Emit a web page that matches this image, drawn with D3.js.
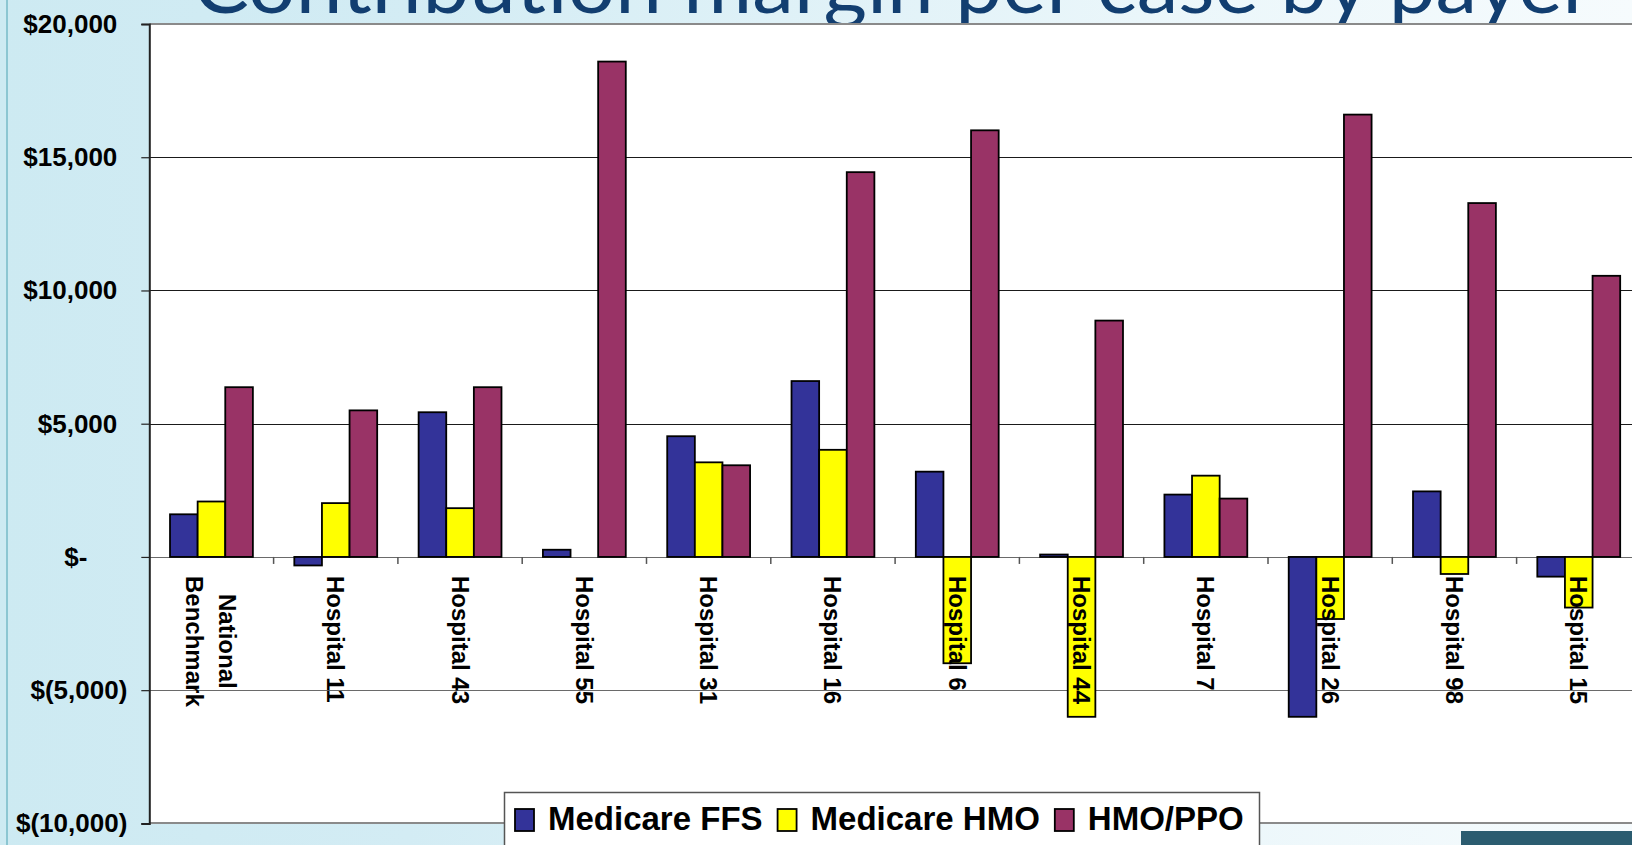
<!DOCTYPE html>
<html>
<head>
<meta charset="utf-8">
<script src="https://cdn.jsdelivr.net/npm/d3@7"></script>
<style>
  html, body { margin: 0; padding: 0; background: #ffffff; }
  svg { display: block; }
</style>
</head>
<body>
<script>
// ---------- data ----------
const categories = ["National\nBenchmark", "Hospital 11", "Hospital 43", "Hospital 55", "Hospital 31",
  "Hospital 16", "Hospital 6", "Hospital 44", "Hospital 7", "Hospital 26", "Hospital 98", "Hospital 15"];
const seriesNames = ["Medicare FFS", "Medicare HMO", "HMO/PPO"];
const medicareFFS = [1600, -320, 5430, 270, 4530, 6600, 3200, 90, 2340, -6000, 2460, -740];
const medicareHMO = [2080, 2020, 1830, 0, 3550, 4020, -3990, -6000, 3050, -2330, -640, -1900];
const hmoPPO      = [6370, 5500, 6370, 18590, 3440, 14440, 16010, 8870, 2190, 16600, 13280, 10550];
const yTickValues = [20000, 15000, 10000, 5000, 0, -5000, -10000];
const titleText = "Contribution margin per case by payer";
const seriesColors = ["#333399", "#FFFF00", "#993366"];

const seriesValues = [medicareFFS, medicareHMO, hmoPPO];

// ---------- layout ----------
const W = 1632, H = 845;
const plotLeft = 149.3, plotTop = 24, plotBottom = 823.4, step = 124.3;
const plotRight = plotLeft + categories.length * step;

const svg = d3.select("body").append("svg").attr("width", W).attr("height", H);
const defs = svg.append("defs");
const bg = defs.append("linearGradient").attr("id", "bg").attr("x1", 0).attr("x2", 1).attr("y1", 0).attr("y2", 0);
bg.append("stop").attr("offset", "0").attr("stop-color", "#cdeaf2");
bg.append("stop").attr("offset", "0.25").attr("stop-color", "#d3ecf4");
bg.append("stop").attr("offset", "0.7").attr("stop-color", "#eaf6fa");
bg.append("stop").attr("offset", "1").attr("stop-color", "#f6fbfd");

svg.append("rect").attr("width", W).attr("height", H).attr("fill", "url(#bg)");
svg.append("line").attr("x1", 7).attr("x2", 7).attr("y1", 0).attr("y2", H)
  .attr("stroke", "#8cc6d2").attr("stroke-width", 2);

// title (mostly cut off at top, as in the reference slide)
svg.append("text")
  .attr("x", 193).attr("y", 13)
  .attr("textLength", 1400).attr("lengthAdjust", "spacingAndGlyphs")
  .attr("font-family", "Lato, 'Open Sans', sans-serif")
  .attr("font-weight", 400)
  .attr("font-size", 80)
  .attr("fill", "#123e70")
  .text(titleText);

// bottom-right photo fragment
svg.append("rect").attr("x", 1461).attr("y", 831).attr("width", W - 1461).attr("height", H - 831)
  .attr("fill", "#2b5c70");

// ---------- scales ----------
const x0 = d3.scaleBand().domain(categories).range([plotLeft, plotRight]).padding(0);
const x1 = d3.scaleBand().domain(seriesNames).range([0, x0.bandwidth()]).paddingInner(0).paddingOuter(0.75);
const y = d3.scaleLinear().domain([-10000, 20000]).range([plotBottom, plotTop]);

// plot area
svg.append("rect").attr("x", plotLeft).attr("y", plotTop)
  .attr("width", plotRight - plotLeft).attr("height", plotBottom - plotTop).attr("fill", "#ffffff");

// gridlines
svg.append("g").selectAll("line").data(yTickValues).join("line")
  .attr("x1", plotLeft).attr("x2", plotRight)
  .attr("y1", d => Math.round(y(d)) + 0.5).attr("y2", d => Math.round(y(d)) + 0.5)
  .attr("stroke", d => (d <= 0) ? "#6a6a6a" : "#1a1a1a").attr("stroke-width", 1.2);

// bars
const barData = [];
categories.forEach((c, i) => seriesNames.forEach((s, j) => barData.push({ c, s, j, v: seriesValues[j][i] })));
svg.append("g").selectAll("rect").data(barData).join("rect")
  .attr("x", d => x0(d.c) + x1(d.s))
  .attr("width", x1.bandwidth())
  .attr("y", d => y(Math.max(0, d.v)))
  .attr("height", d => Math.abs(y(d.v) - y(0)))
  .attr("fill", d => seriesColors[d.j])
  .attr("stroke", "#000")
  .attr("stroke-width", d => d.v === 0 ? 0 : 1.8);

// plot borders
svg.append("line").attr("x1", plotLeft).attr("x2", W).attr("y1", plotTop).attr("y2", plotTop)
  .attr("stroke", "#8a8a8a").attr("stroke-width", 2);
svg.append("line").attr("x1", plotLeft).attr("x2", W).attr("y1", plotBottom - 0.5).attr("y2", plotBottom - 0.5)
  .attr("stroke", "#8a8a8a").attr("stroke-width", 2);

// x tick marks between categories
svg.append("g").selectAll("line").data(categories.slice(1)).join("line")
  .attr("x1", d => x0(d)).attr("x2", d => x0(d))
  .attr("y1", y(0)).attr("y2", y(0) + 7)
  .attr("stroke", "#555").attr("stroke-width", 1.5);

// y axis
const fmt = d3.format(",");
const yAxis = d3.axisLeft(y).tickValues(yTickValues).tickSize(8).tickPadding(14)
  .tickFormat(d => d > 0 ? "$" + fmt(d) : d === 0 ? "$-" : "$(" + fmt(-d) + ")");
const ya = svg.append("g").attr("transform", `translate(${plotLeft},0)`).call(yAxis);
ya.select(".domain").attr("stroke", "#222").attr("stroke-width", 2);
ya.selectAll(".tick line").attr("stroke", "#222").attr("stroke-width", 1.2);
ya.selectAll(".tick text")
  .attr("font-family", "'Liberation Sans', Arial, sans-serif")
  .attr("font-weight", "bold")
  .attr("font-size", 26)
  .attr("fill", "#000")
  .attr("dx", d => d > 0 ? -10 : d === 0 ? -40 : 0);

// category labels (rotated, drawn over bars)
const labelG = svg.append("g");
categories.forEach(c => {
  const cx = x0(c) + x0.bandwidth() / 2;
  const lines = c.split("\n");
  const texts = lines.map(ln => labelG.append("text")
    .attr("font-family", "'Liberation Sans', Arial, sans-serif")
    .attr("font-weight", "bold")
    .attr("font-size", 24)
    .attr("fill", "#000")
    .text(ln));
  const lens = texts.map(t => t.node().getComputedTextLength());
  const maxL = d3.max(lens);
  texts.forEach((t, i) => {
    const bx = cx + ((lines.length - 1) / 2 - i) * 33 - 8.5;
    const by = 576 + (maxL - lens[i]) / 2;
    t.attr("transform", `translate(${bx},${by}) rotate(90)`);
  });
});

// legend
const lg = svg.append("g");
lg.append("rect").attr("x", 504.5).attr("y", 792.5).attr("width", 755).attr("height", 90)
  .attr("fill", "#fff").attr("stroke", "#555").attr("stroke-width", 1.5);
let lx = 515;
seriesNames.forEach((s, j) => {
  lg.append("rect").attr("x", lx).attr("y", 809).attr("width", 19).attr("height", 22)
    .attr("fill", seriesColors[j]).attr("stroke", "#000").attr("stroke-width", 1.8);
  const t = lg.append("text").attr("x", lx + 33).attr("y", 830)
    .attr("font-family", "'Liberation Sans', Arial, sans-serif")
    .attr("font-weight", "bold").attr("font-size", 33).attr("fill", "#000").text(s);
  lx = lx + 33 + t.node().getComputedTextLength() + 15;
});
</script>
</body>
</html>
